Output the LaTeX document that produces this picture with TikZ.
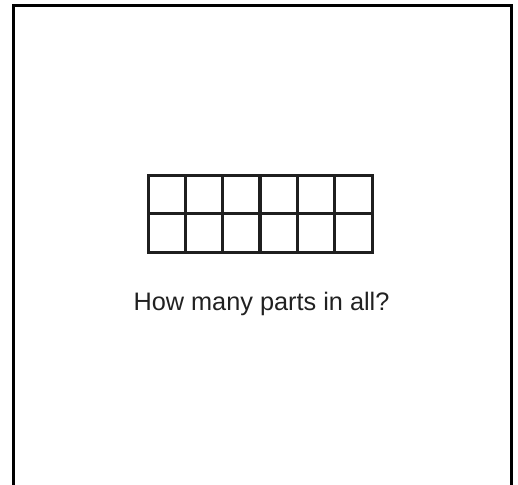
\documentclass[tikz,border=0pt]{standalone}
\usepackage{fontspec}
\setmainfont{Liberation Sans}
\begin{document}
\begin{tikzpicture}[x=1bp,y=-1bp,
  frameline/.style={line width=3bp,black},
  gridline/.style={line width=3.3bp,draw=black!88},
  label/.style={font=\fontsize{25.3bp}{30bp}\selectfont,text=black!87,inner sep=0pt,anchor=base}]
\useasboundingbox (0,0) rectangle (518,485);
\coordinate (fa) at (13.5,485);
\coordinate (fb) at (13.5,6);
\coordinate (fc) at (511,6);
\coordinate (fd) at (511,485);
\draw[frameline] (fa) -- (fb) -- (fc) -- (fd);
\node[draw=none,minimum width=223.5bp,minimum height=76.5bp,inner sep=0pt] (grid) at (260.25,213.75) {};
\foreach \i in {1,...,5}
  \draw[gridline] ([xshift=\i*37.25bp]grid.north west) -- ([xshift=\i*37.25bp]grid.south west);
\draw[gridline] (grid.west) -- (grid.east);
\draw[gridline] (grid.north west) rectangle (grid.south east);
\node[label] (q) at (261.5,310) {How many parts in all?};
\end{tikzpicture}
\end{document}
